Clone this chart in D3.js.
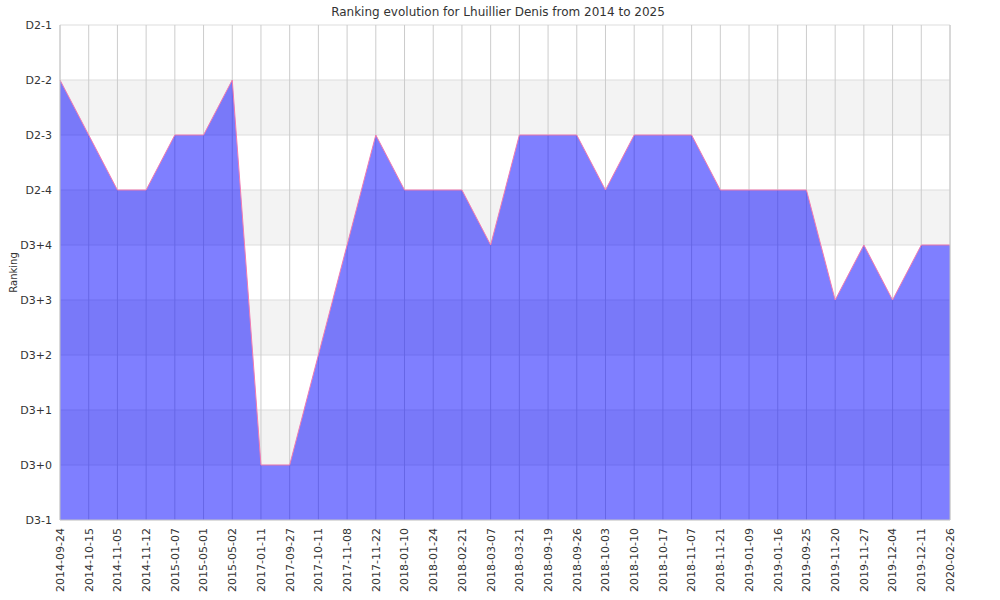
<!DOCTYPE html>
<html lang="en">
<head>
  <meta charset="utf-8">
  <title>Ranking evolution</title>
  <script src="https://d3js.org/d3.v7.min.js"></script>
  <style>
    body { margin: 0; background: #fff; }
    text { font-family: "DejaVu Sans", sans-serif; fill: #333; }
  </style>
</head>
<body>
<script>
  // ranking categories, bottom to top
  var ranks = ["D3-1", "D3+0", "D3+1", "D3+2", "D3+3", "D3+4", "D2-4", "D2-3", "D2-2", "D2-1"];

  var dates = ["2014-09-24", "2014-10-15", "2014-11-05", "2014-11-12", "2015-01-07", "2015-05-01",
    "2015-05-02", "2017-01-11", "2017-09-27", "2017-10-11", "2017-11-08", "2017-11-22",
    "2018-01-10", "2018-01-24", "2018-02-21", "2018-03-07", "2018-03-21", "2018-09-19",
    "2018-09-26", "2018-10-03", "2018-10-10", "2018-10-17", "2018-11-07", "2018-11-21",
    "2019-01-09", "2019-01-16", "2019-09-25", "2019-11-20", "2019-11-27", "2019-12-04",
    "2019-12-11", "2020-02-26"];

  var ranking = ["D2-2", "D2-3", "D2-4", "D2-4", "D2-3", "D2-3", "D2-2", "D3+0", "D3+0", "D3+2",
    "D3+4", "D2-3", "D2-4", "D2-4", "D2-4", "D3+4", "D2-3", "D2-3", "D2-3", "D2-4",
    "D2-3", "D2-3", "D2-3", "D2-4", "D2-4", "D2-4", "D2-4", "D3+3", "D3+4", "D3+3",
    "D3+4", "D3+4"];

  var w = 1000, h = 600;
  var margin = {top: 25, right: 50, bottom: 80, left: 60};
  var iw = w - margin.left - margin.right;
  var ih = h - margin.top - margin.bottom;

  var svg = d3.select("body").append("svg")
    .attr("width", w)
    .attr("height", h);

  var g = svg.append("g")
    .attr("transform", "translate(" + margin.left + "," + margin.top + ")");

  var x = d3.scalePoint().domain(dates).range([0, iw]);
  var y = d3.scalePoint().domain(ranks).range([ih, 0]);
  var step = y.step();

  // alternating bands
  g.selectAll("rect.band")
    .data(ranks.slice(0, ranks.length - 1))
    .enter()
    .append("rect")
    .attr("class", "band")
    .attr("x", 0)
    .attr("width", iw)
    .attr("y", function(d, i) { return y(ranks[i + 1]); })
    .attr("height", step)
    .attr("fill", function(d, i) { return i % 2 == 0 ? "#fff" : "#f3f3f3"; });

  // horizontal grid
  g.selectAll("line.hgrid")
    .data(ranks)
    .enter()
    .append("line")
    .attr("x1", 0).attr("x2", iw)
    .attr("y1", function(d) { return y(d); })
    .attr("y2", function(d) { return y(d); })
    .attr("stroke", "#ddd");

  // vertical grid
  g.selectAll("line.vgrid")
    .data(dates)
    .enter()
    .append("line")
    .attr("x1", function(d) { return x(d); })
    .attr("x2", function(d) { return x(d); })
    .attr("y1", 0).attr("y2", ih)
    .attr("stroke", "#ccc");

  var pts = dates.map(function(d, i) { return {date: d, rank: ranking[i]}; });

  var area = d3.area()
    .x(function(d) { return x(d.date); })
    .y0(ih)
    .y1(function(d) { return y(d.rank); });

  g.append("path")
    .datum(pts)
    .attr("d", area)
    .attr("fill", "rgba(0,0,255,0.5)");

  var line = d3.line()
    .x(function(d) { return x(d.date); })
    .y(function(d) { return y(d.rank); });

  g.append("path")
    .datum(pts)
    .attr("d", line)
    .attr("fill", "none")
    .attr("stroke", "#f27bb0")
    .attr("stroke-width", 1);

  // frame
  g.append("line").attr("x1", 0).attr("x2", 0).attr("y1", 0).attr("y2", ih).attr("stroke", "#ccc");
  g.append("line").attr("x1", iw).attr("x2", iw).attr("y1", 0).attr("y2", ih).attr("stroke", "#ccc");
  g.append("line").attr("x1", 0).attr("x2", iw).attr("y1", ih).attr("y2", ih).attr("stroke", "#ccc");

  // y labels
  g.selectAll("text.ylab")
    .data(ranks)
    .enter()
    .append("text")
    .attr("x", -8)
    .attr("y", function(d) { return y(d); })
    .attr("dy", "0.35em")
    .attr("text-anchor", "end")
    .style("font-size", "11px")
    .text(function(d) { return d; });

  // x labels, rotated
  g.selectAll("text.xlab")
    .data(dates)
    .enter()
    .append("text")
    .attr("transform", function(d) { return "translate(" + x(d) + "," + (ih + 8) + ") rotate(-90)"; })
    .attr("dy", "0.35em")
    .attr("text-anchor", "end")
    .style("font-size", "11px")
    .text(function(d) { return d; });

  svg.append("text")
    .attr("x", w / 2 - 2)
    .attr("y", 16)
    .attr("text-anchor", "middle")
    .style("font-size", "12px")
    .text("Ranking evolution for Lhuillier Denis from 2014 to 2025");

  svg.append("text")
    .attr("transform", "translate(17," + (margin.top + ih / 2) + ") rotate(-90)")
    .attr("text-anchor", "middle")
    .style("font-size", "10px")
    .text("Ranking");
</script>
</body>
</html>
